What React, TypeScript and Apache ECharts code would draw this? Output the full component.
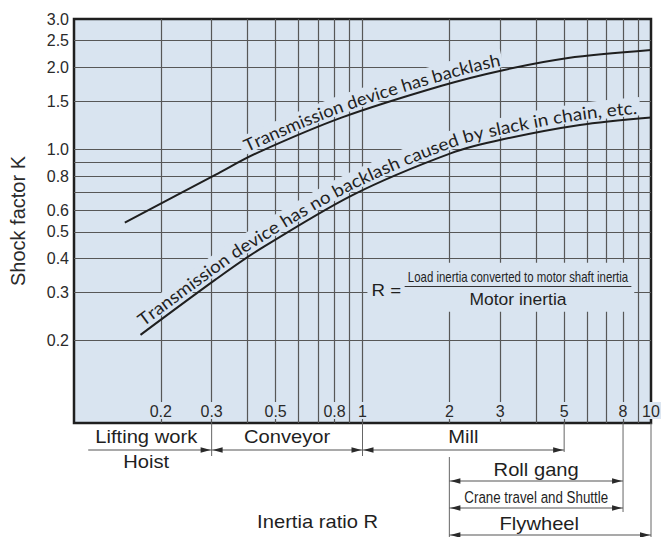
import React, { useEffect, useRef } from "react";
import * as echarts from "echarts";

// ---------- data ----------
const xGridValues = [0.2, 0.3, 0.4, 0.5, 0.6, 0.7, 0.8, 0.9, 1, 2, 3, 4, 5, 6, 7, 8, 9];
const xTickLabels = [0.2, 0.3, 0.5, 0.8, 1, 2, 3, 5, 8, 10];
const yGridValues = [0.2, 0.3, 0.4, 0.5, 0.6, 0.7, 0.8, 0.9, 1, 1.5, 2, 2.5];
const yTickLabels = [0.2, 0.3, 0.4, 0.5, 0.6, 0.8, 1.0, 1.5, 2.0, 2.5, 3.0];

const backlashR = [0.15, 0.31, 0.43, 0.85, 1.88, 3.07, 5.16, 10];
const backlashK = [0.54, 0.81, 0.97, 1.31, 1.71, 1.95, 2.16, 2.31];
const noBacklashR = [0.17, 0.31, 0.43, 0.92, 2.03, 3.07, 5.67, 10];
const noBacklashK = [0.21, 0.335, 0.425, 0.68, 0.97, 1.09, 1.23, 1.31];

const backlashText = "Transmission device has backlash";
const noBacklashText = "Transmission device has no backlash caused by slack in chain, etc.";

const rangeNames = ["Lifting work", "Conveyor", "Mill", "Roll gang", "Crane travel and Shuttle", "Flywheel"];
const rangeFrom = [0.112, 0.3, 1, 2, 2, 2];
const rangeTo = [0.3, 1, 5, 8, 8, 10];
const dividerR = [0.3, 1, 5, 2, 8, 10];

// ---------- style / layout ----------
const BG = "#d9e4f0";
const INK = "#1f1f1f";
const GRIDC = "#575757";
const SANS = "'Liberation Sans', Arial, sans-serif";
const CURVE_FONT = "Lato, 'Open Sans', sans-serif";
const CURVE_SIZE = 17.5;

const rangeRow = [0, 0, 0, 1, 2, 3];
const rangeLabelR = [0.178, null, null, null, null, 4.1];
const rangeStartArrow = [false, true, true, true, true, true];
const rowLineDy = [27, 58, 85, 112];
const rowLabelDy = [14, 47, 74, 101];
const dividerDy: [number, number][] = [[0, 33], [0, 33], [0, 29], [34, 114], [0, 89], [0, 114]];

const mctx = document.createElement("canvas").getContext("2d")!;
function textWidth(s: string, font: string) {
  mctx.font = font;
  return mctx.measureText(s).width;
}

function textEl(text: string, x: number, y: number, size: number, opt: any = {}) {
  const family = opt.family || SANS;
  const weight = opt.weight || "normal";
  const w = textWidth(text, `${weight} ${size}px ${family}`);
  const sx = opt.width ? opt.width / w : opt.scale ?? 1;
  return {
    type: "text",
    x,
    y,
    scaleX: sx,
    z: 30,
    style: {
      text,
      fontSize: size,
      fontFamily: family,
      fontWeight: weight,
      fill: opt.fill || INK,
      align: opt.align || "center",
      verticalAlign: "middle",
    },
  };
}

function densify(pts: number[][], n = 24) {
  const out: number[][] = [];
  for (let i = 0; i < pts.length - 1; i++) {
    const p0 = pts[Math.max(0, i - 1)], p1 = pts[i], p2 = pts[i + 1], p3 = pts[Math.min(pts.length - 1, i + 2)];
    for (let j = 0; j < n; j++) {
      const t = j / n, t2 = t * t, t3 = t2 * t;
      const f = (a: number, b: number, c: number, d: number) =>
        0.5 * (2 * b + (-a + c) * t + (2 * a - 5 * b + 4 * c - d) * t2 + (-a + 3 * b - 3 * c + d) * t3);
      out.push([f(p0[0], p1[0], p2[0], p3[0]), f(p0[1], p1[1], p2[1], p3[1])]);
    }
  }
  out.push(pts[pts.length - 1]);
  return out;
}

function curvedText(poly: number[][], text: string, xStart: number, xEnd: number, gap: number) {
  const cum = [0];
  for (let i = 1; i < poly.length; i++) {
    cum.push(cum[i - 1] + Math.hypot(poly[i][0] - poly[i - 1][0], poly[i][1] - poly[i - 1][1]));
  }
  const sAtX = (x: number) => {
    for (let i = 1; i < poly.length; i++) {
      if (poly[i][0] >= x) {
        const t = (x - poly[i - 1][0]) / (poly[i][0] - poly[i - 1][0]);
        return cum[i - 1] + t * (cum[i] - cum[i - 1]);
      }
    }
    return cum[cum.length - 1];
  };
  const at = (s: number) => {
    let i = 1;
    while (i < poly.length - 1 && cum[i] < s) i++;
    const seg = cum[i] - cum[i - 1] || 1;
    const t = (s - cum[i - 1]) / seg;
    const dx = poly[i][0] - poly[i - 1][0], dy = poly[i][1] - poly[i - 1][1];
    const L = Math.hypot(dx, dy) || 1;
    return { x: poly[i - 1][0] + t * dx, y: poly[i - 1][1] + t * dy, tx: dx / L, ty: dy / L };
  };
  const s0 = sAtX(xStart), s1 = sAtX(xEnd);
  const size = CURVE_SIZE;
  const font = `${size}px ${CURVE_FONT}`;
  const chars = Array.from(text);
  const total = chars.reduce((a, c) => a + textWidth(c, font), 0);
  const sx = (s1 - s0) / total;
  const els: any[] = [];

  // clearing band beneath the text
  const bandW = size * 1.05;
  const off = gap + 0.6 + bandW / 2;
  const band: number[][] = [];
  for (let s = s0 - 4; s <= s1 + 4; s += 2) {
    const p = at(s);
    band.push([p.x + p.ty * off, p.y - p.tx * off]);
  }
  els.push({ type: "polyline", z: 12, shape: { points: band }, style: { stroke: BG, lineWidth: bandW, fill: null } });

  let s = s0;
  for (const ch of chars) {
    const w = textWidth(ch, font) * sx;
    if (ch !== " ") {
      const p = at(s + w / 2);
      const nx = p.ty, ny = -p.tx;
      els.push({
        type: "text",
        x: p.x + nx * gap,
        y: p.y + ny * gap,
        rotation: Math.atan2(-p.ty, p.tx),
        scaleX: sx,
        z: 20,
        style: {
          text: ch,
          fontSize: size,
          fontFamily: CURVE_FONT,
          fill: INK,
          align: "center",
          verticalAlign: "bottom",
        },
      });
    }
    s += w;
  }
  return els;
}

export default function App() {
  const ref = useRef<HTMLDivElement>(null);
  useEffect(() => {
    const chart = echarts.init(ref.current!, undefined, { renderer: "svg" });
    const fmt = (v: number) => String(Number(Number(v).toPrecision(3)));
    chart.setOption({
      animation: false,
      backgroundColor: "#ffffff",
      grid: {
        left: 69,
        right: 19,
        top: 19,
        bottom: 114,
        show: true,
        backgroundColor: BG,
        borderColor: INK,
        borderWidth: 2.5,
      },
      xAxis: {
        type: "log",
        logBase: 10,
        min: 0.1,
        max: 10,
        axisLine: { show: false },
        axisTick: { show: false, customValues: xGridValues },
        splitLine: { show: true, lineStyle: { color: GRIDC, width: 1.2 } },
        axisLabel: {
          customValues: xTickLabels,
          inside: true,
          margin: 4,
          formatter: fmt,
          fontSize: 16,
          fontFamily: SANS,
          color: "#2a2a2a",
          backgroundColor: BG,
          padding: [1, 1, 0, 1],
        },
      },
      yAxis: {
        type: "log",
        logBase: 10,
        min: 0.1,
        max: 3,
        name: "Shock factor K",
        nameLocation: "middle",
        nameGap: 46,
        nameTextStyle: { fontSize: 20, fontFamily: SANS, color: "#2a2a2a" },
        axisLine: { show: false },
        axisTick: { show: false, customValues: yGridValues },
        splitLine: { show: true, lineStyle: { color: GRIDC, width: 1.2 } },
        axisLabel: {
          customValues: yTickLabels,
          margin: 5,
          formatter: (v: number) => Number(v).toFixed(1),
          fontSize: 16,
          fontFamily: SANS,
          color: "#2a2a2a",
        },
      },
      series: [
        {
          type: "line",
          name: "backlash",
          data: backlashR.map((r, i) => [r, backlashK[i]]),
          smooth: 0.3,
          showSymbol: false,
          lineStyle: { color: INK, width: 2 },
          z: 3,
        },
        {
          type: "line",
          name: "no backlash",
          data: noBacklashR.map((r, i) => [r, noBacklashK[i]]),
          smooth: 0.3,
          showSymbol: false,
          lineStyle: { color: INK, width: 2 },
          z: 3,
        },
      ],
    });

    const P = (r: number, k: number) => chart.convertToPixel({ gridIndex: 0 }, [r, k]) as number[];
    const px = (r: number) => P(r, 1)[0];
    const py = (k: number) => P(1, k)[1];
    const bottom = py(0.1);

    const els: any[] = [];

    // mask behind formula
    const mx0 = px(1.04), mx1 = px(8.75);
    const my0 = py(0.385), my1 = py(0.255);
    els.push({ type: "rect", z: 5, shape: { x: mx0, y: my0, width: mx1 - mx0, height: my1 - my0 }, style: { fill: BG } });

    // formula
    const fy = py(0.3) - 6;
    const fx0 = px(1.4), fx1 = px(8.55);
    els.push(textEl("R =", px(1.21), fy + 4, 17, { scale: 1.1 }));
    els.push({ type: "line", z: 30, shape: { x1: fx0, y1: fy, x2: fx1, y2: fy }, style: { stroke: "#333", lineWidth: 1 } });
    els.push(textEl("Load inertia converted to motor shaft inertia", (fx0 + fx1) / 2, fy - 9, 14, { width: fx1 - fx0 - 6 }));
    els.push(textEl("Motor inertia", (fx0 + fx1) / 2, fy + 13, 17, { width: 97 }));

    // curve texts
    const upPoly = densify(backlashR.map((r, i) => P(r, backlashK[i])));
    const loPoly = densify(noBacklashR.map((r, i) => P(r, noBacklashK[i])));
    els.push(...curvedText(upPoly, backlashText, px(0.405), px(3.05), 2.5));
    els.push(...curvedText(loPoly, noBacklashText, px(0.178), px(9.0), 2.5));

    // dividers below the plot
    dividerR.forEach((r, i) => {
      const x = px(r);
      els.push({ type: "line", z: 25, shape: { x1: x, y1: bottom + dividerDy[i][0], x2: x, y2: bottom + dividerDy[i][1] }, style: { stroke: "#666", lineWidth: 1 } });
    });

    // ranges
    const head = (x: number, y: number, dir: number) => ({
      type: "polygon",
      z: 26,
      shape: { points: [[x, y], [x - dir * 10, y - 2.8], [x - dir * 10, y + 2.8]] },
      style: { fill: "#2a2a2a" },
    });
    rangeNames.forEach((name, i) => {
      const x0 = px(rangeFrom[i]), x1 = px(rangeTo[i]);
      const y = bottom + rowLineDy[rangeRow[i]];
      els.push({ type: "line", z: 25, shape: { x1: x0, y1: y, x2: x1, y2: y }, style: { stroke: "#555", lineWidth: 1.2 } });
      els.push(head(x1 - 1, y, 1));
      if (rangeStartArrow[i]) els.push(head(x0 + 1, y, -1));
      const lr = rangeLabelR[i];
      const cx = lr ? px(lr) : (x0 + x1) / 2;
      const ly = bottom + rowLabelDy[rangeRow[i]];
      if (name.startsWith("Crane")) els.push(textEl(name, cx, ly, 17, { width: 144 }));
      else els.push(textEl(name, cx, ly, 18, { scale: 1.12 }));
    });
    els.push(textEl("Hoist", px(0.178), bottom + 39, 18, { scale: 1.12 }));
    els.push(textEl("Inertia ratio R", px(0.55) + 30, bottom + 99, 18, { scale: 1.12 }));

    chart.setOption({ graphic: { elements: els } });
    return () => chart.dispose();
  }, []);
  return (
    <div
      ref={ref}
      style={{ position: "fixed", left: 0, top: 0, width: 670, height: 537, background: "#fff" }}
    />
  );
}
